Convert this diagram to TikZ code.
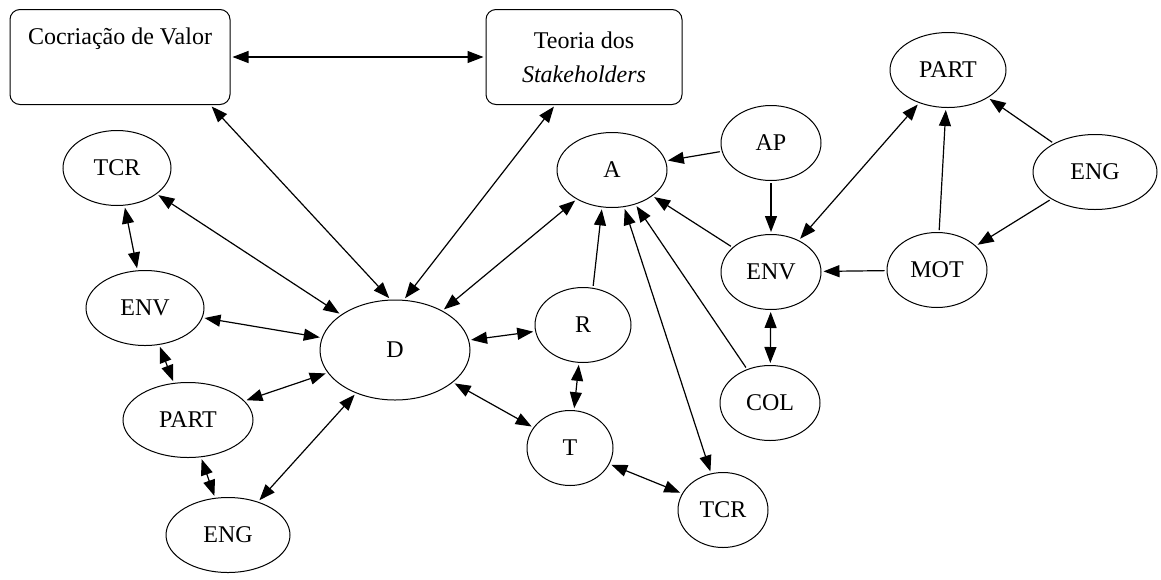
\documentclass[tikz,border=0pt]{standalone}
\usepackage{fontspec}
\setmainfont{Liberation Serif}
\newfontfamily\diagfont{Liberation Serif}
\usetikzlibrary{arrows.meta,shapes.geometric,positioning}

\begin{document}
\begin{tikzpicture}[x=1pt,y=-1pt,
    >={Triangle[length=16pt,width=12pt]},
    font=\diagfont\fontsize{24}{28}\selectfont]
      \useasboundingbox (0,0) rectangle (1161,579);
      \begin{scope}[every node/.style={draw,line width=1pt,rounded corners=10pt,align=center,
          minimum width=220pt,minimum height=95pt,inner sep=0pt}]
        \node (cocri) at (120,57) {Cocriação de Valor\\[6pt]\strut};
        \node (teoria) at (584,57) [minimum width=196pt] {Teoria dos\\[6pt]\textit{Stakeholders}};
      \end{scope}
      \begin{scope}[every node/.style={ellipse,draw,line width=1pt,inner sep=0pt,
          minimum width=100pt,minimum height=75pt}]
        \node (tcrl) at (117,168) [minimum width=108pt] {TCR};
        \node (envl) at (145,308) [minimum width=118pt] {ENV};
        \node (partl) at (188,420) [minimum width=130pt] {PART};
        \node (engl) at (228,535) [minimum width=124pt] {ENG};
        \node (d) at (395,350) [minimum width=150pt,minimum height=100pt] {D};
        \node (a) at (612,170) [minimum width=110pt] {A};
        \node (r) at (583,325) [minimum width=96pt] {R};
        \node (t) at (570,448) [minimum width=86pt] {T};
        \node (col) at (770,403) {COL};
        \node (tcrb) at (723,510) [minimum width=90pt] {TCR};
        \node (ap) at (771,143) {AP};
        \node (envr) at (771,272) {ENV};
        \node (mot) at (937,270) {MOT};
        \node (partr) at (948,70) [minimum width=116pt] {PART};
        \node (engr) at (1095,172) [minimum width=124pt] {ENG};
      \end{scope}
      \begin{scope}[every edge/.style={draw,line width=1.2pt,shorten <=2pt,shorten >=2pt}]
        % referencial teorico
        \path[<->] (cocri) edge (teoria);
        \path[<->] (cocri.-28) edge (d.95);
        \path[<->] (teoria.-121) edge (d.80);
        % lado esquerdo
        \path[<->] (tcrl) edge (d);
        \path[<->] (tcrl) edge (envl);
        \path[<->] (envl) edge (d);
        \path[<->] (envl) edge (partl);
        \path[<->] (partl) edge (d);
        \path[<->] (partl) edge (engl);
        \path[<->] (engl) edge (d);
        % lado direito
        \path[<->] (d) edge (a);
        \path[<->] (d) edge (r);
        \path[<->] (d) edge (t);
        \path[->] (r.75) edge (a.-105);
        \path[<->] (r) edge (t);
        \path[<->] (t) edge (tcrb);
        \path[<->] (a) edge (tcrb);
        \path[->] (ap) edge (a);
        \path[->] (ap) edge (envr);
        \path[->] (envr) edge (a);
        \path[->] (col) edge (a);
        \path[<->] (envr) edge (col);
        \path[<->] (partr) edge (envr);
        \path[->] (mot) edge (partr);
        \path[->] (engr) edge (partr);
        \path[->] (engr) edge (mot);
        \path[->] (mot) edge (envr);
      \end{scope}
    \end{tikzpicture}
\end{document}
